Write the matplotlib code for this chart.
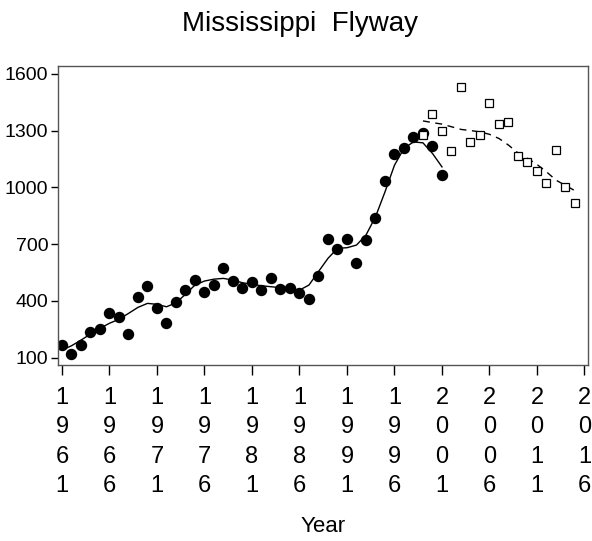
# Mississippi Flyway breeding population estimates
import matplotlib
matplotlib.use("Agg")
import matplotlib.pyplot as plt

FONT = ['Liberation Sans Narrow', 'Liberation Sans', 'DejaVu Sans']
plt.rcParams['font.family'] = FONT

# older survey (filled circles), 1961-2001
years_old = list(range(1961, 2002))
count_old = [167, 120, 167, 236, 251, 336, 315, 225, 420, 478,
             362, 283, 393, 457, 510, 447, 484, 574, 505, 468,
             500, 457, 520, 463, 468, 441, 410, 531, 727, 674,
             727, 600, 721, 838, 1033, 1175, 1207, 1265, 1286, 1218,
             1064]
# smoothed trend
smooth_old = [141, 163, 193, 225, 255, 282, 303, 334, 366, 387,
              382, 369, 390, 435, 484, 505, 515, 519, 510, 496,
              488, 480, 475, 470, 466, 457, 484, 555, 625, 678,
              681, 695, 748, 844, 976, 1117, 1206, 1240, 1235, 1179,
              1108]

# newer survey (open squares), 1999-2015
years_new = list(range(1999, 2016))
count_new = [1276, 1390, 1297, 1191, 1531, 1240, 1276, 1448, 1332, 1344,
             1167, 1133, 1084, 1024, 1198, 1000, 918]
# smoothed trend
smooth_new = [1351, 1342, 1334, 1320, 1306, 1300, 1293, 1280, 1258, 1223,
              1182, 1153, 1121, 1082, 1038, 1010, 982]

xticks = list(range(1961, 2017, 5))
yticks = [100, 400, 700, 1000, 1300, 1600]

fig = plt.figure(figsize=(5.92, 5.41), dpi=100)
ax = fig.add_axes([58 / 592, 1 - 365 / 541, 530 / 592, 299 / 541])

ax.plot(years_old, smooth_old, color='black', lw=1.0)
ax.plot(years_old, count_old, 'o', color='black', ms=7.2)
ax.plot(years_new, smooth_new, color='black', lw=1.0, ls=(0, (5, 4)))
ax.plot(years_new, count_new, 's', mfc='white', mec='black', mew=0.9, ms=6.3)

ax.set_xlim(1960.58, 2016.37)
ax.set_ylim(61.5, 1641)
ax.set_xticks(xticks)
ax.set_xticklabels(['\n'.join(str(y)) for y in xticks], fontsize=17,
                   linespacing=1.42)
ax.set_yticks(yticks)
ax.set_yticklabels([str(v) for v in yticks], fontsize=14)
ax.tick_params(axis='x', length=7, width=1, pad=9)
ax.tick_params(axis='y', length=5, width=1, pad=2)
for s in ax.spines.values():
    s.set_color('#555555')
    s.set_linewidth(1)

fig.text(300 / 592, 1 - 24 / 541, 'Mississippi  Flyway', fontsize=20,
         ha='center', va='center')
fig.text(323 / 592, 1 - 527 / 541, 'Year', fontsize=16,
         ha='center', va='center')

fig.savefig('out.png', dpi=100)
